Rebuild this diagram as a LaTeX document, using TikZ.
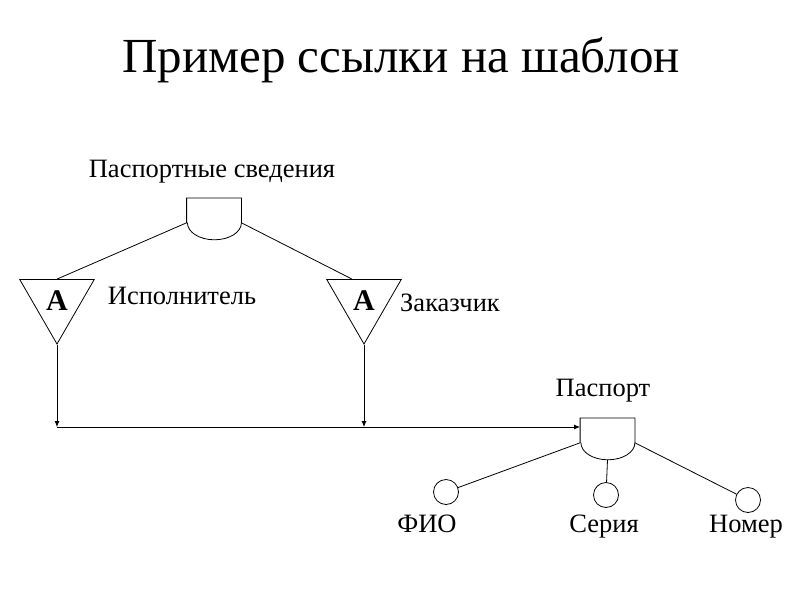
\documentclass[tikz,border=0pt]{standalone}
\usepackage{fontspec}
\setmainfont{Liberation Serif}
\usepackage{tikz}
\usetikzlibrary{calc,positioning,arrows.meta,shapes.geometric}

\tikzset{
  tmpl/.style={minimum width=54pt,minimum height=24pt,inner sep=0pt,anchor=north,
    append after command={\pgfextra{\draw (\tikzlastnode.south west) -- (\tikzlastnode.north west)
      -- (\tikzlastnode.north east) -- (\tikzlastnode.south east)
      arc[start angle=0,end angle=-180,x radius=27pt,y radius=17pt];}}},
  refto/.style={regular polygon,regular polygon sides=3,shape border rotate=180,
    draw,minimum size=86pt,inner sep=0pt,font=\fontsize{30}{30}\selectfont\bfseries},
  attr/.style={circle,draw,minimum size=25pt,inner sep=0pt},
  lbl/.style={font=\fontsize{26.5}{26.5}\selectfont,inner sep=0pt,anchor=base}
}

\begin{document}
\begin{tikzpicture}[x=1pt,y=-1pt,thick,>={Latex[length=6pt,width=5pt]}]
		\useasboundingbox (0,0) rectangle (800,600);
		\node[font=\fontsize{49}{49}\selectfont,anchor=base] (title) at (401,72) {Пример ссылки на шаблон};

		\node[lbl] (svedtext) at (212,177) {Паспортные сведения};
		\node[tmpl] (sved) at (214,198) {};
		\node[refto] (isp) at (57,301) {A};
		\node[refto] (zak) at (364,301) {A};
		\node[lbl] (isptext) at (182,304) {Исполнитель};
		\node[lbl] (zaktext) at (450,311) {Заказчик};

		\node[lbl] (pasptext) at (603,396) {Паспорт};
		\node[tmpl] (pasp) at (607.5,418) {};
		\node[attr] (fio) at (446,492) {};
		\node[attr] (ser) at (606,495) {};
		\node[attr] (nom) at (748,500) {};
		\node[lbl] (fiotext) at (427,532) {ФИО};
		\node[lbl] (sertext) at (604,532) {Серия};
		\node[lbl] (nomtext) at (746,532) {Номер};
		\coordinate (busL) at (isp.corner 1 |- 0,427);
		\coordinate (busR) at (zak.corner 1 |- busL);

		\path (sved.south west) edge (isp.north);
		\path (sved.south east) edge ($(zak.north)+(-12,0)$);
		\path[->] (isp.corner 1) edge (busL);
		\path[->] (zak.corner 1) edge (busR);
		\path[->] (busL) edge (busL -| pasp.west);
		\path (pasp.south west) edge (fio);
		\path ($(pasp.south)+(0,17)$) edge (ser);
		\path (pasp.south east) edge (nom);
	\end{tikzpicture}
\end{document}
